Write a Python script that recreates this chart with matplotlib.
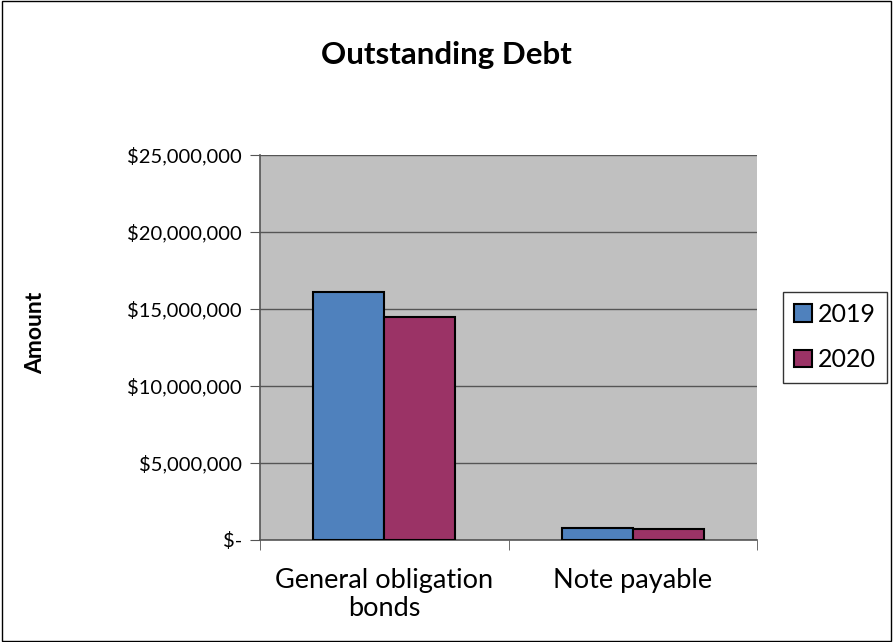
import numpy as np
import matplotlib.pyplot as plt

plt.rcParams['font.family'] = ['Lato', 'DejaVu Sans']

# data
categories = ["General obligation\nbonds", "Note payable"]
series_names = ["2019", "2020"]
values_2019 = [16100000, 780000]
values_2020 = [14480000, 710000]
yticks = [0, 5000000, 10000000, 15000000, 20000000, 25000000]
ytick_labels = ["$-", "$5,000,000", "$10,000,000", "$15,000,000", "$20,000,000", "$25,000,000"]

fig = plt.figure(figsize=(8.93, 6.42), dpi=100)
ax = fig.add_axes([0.2912, 0.1589, 0.5566, 0.5997])
ax.set_facecolor("#c0c0c0")

x = np.arange(len(categories))
w = 0.286
b1 = ax.bar(x - w/2, values_2019, w, color="#4f81bd", edgecolor="black", linewidth=1.5, label=series_names[0], zorder=3)
b2 = ax.bar(x + w/2, values_2020, w, color="#9b3366", edgecolor="black", linewidth=1.5, label=series_names[1], zorder=3)

ax.set_xlim(-0.5, 1.5)
ax.set_ylim(0, 25000000)
ax.set_yticks(yticks)
ax.set_yticklabels(ytick_labels, fontsize=14.5)
ax.set_xticks(x)
ax.set_xticklabels(categories, fontsize=19.5, linespacing=1.15)
ax.tick_params(axis="x", length=0, pad=20)
ax.set_xticks([-0.5, 0.5, 1.5], minor=True)
ax.tick_params(axis="x", which="minor", length=7, color="#555555")
ax.tick_params(axis="y", length=7, color="#555555", pad=6)
ax.grid(axis="y", color="#555555", linewidth=1, zorder=1)
for s in ["top", "right"]:
    ax.spines[s].set_visible(False)
ax.spines["left"].set_color("#555555")
ax.spines["bottom"].set_color("#555555")
ax.spines["left"].set_linewidth(1.2)
ax.spines["bottom"].set_linewidth(1.2)

fig.text(0.04, 0.482, "Amount", rotation=90, ha="center", va="center", fontsize=16.5, fontweight="bold")
fig.text(0.5, 0.914, "Outstanding Debt", ha="center", va="center", fontsize=22.5, fontweight="bold")

leg = fig.legend(handles=[b1, b2], loc="center", bbox_to_anchor=(0.935, 0.475), fontsize=18,
                 frameon=True, fancybox=False, edgecolor="black", handlelength=0.7,
                 handleheight=0.7, handletextpad=0.25, labelspacing=0.9, borderpad=0.45,
                 borderaxespad=0)
leg.get_frame().set_linewidth(1)

fig.patches.append(plt.Rectangle((0.002, 0.002), 0.996, 0.996, transform=fig.transFigure,
                                 fill=False, edgecolor="black", linewidth=1))

plt.savefig("out.png", dpi=100)
